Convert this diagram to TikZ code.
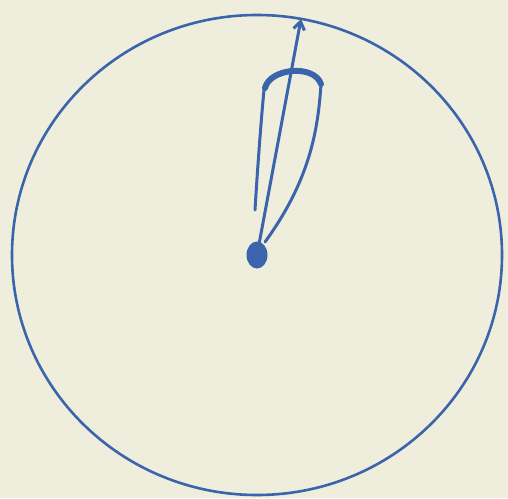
\documentclass[tikz,border=0pt]{standalone}
\usetikzlibrary{arrows.meta,shapes.geometric}
\definecolor{paper}{HTML}{EFEEDC}
\definecolor{ink}{HTML}{3A64AC}
\begin{document}
\begin{tikzpicture}[x=1pt,y=-1pt,
  pen/.style={draw=ink,line width=3pt,line cap=round,line join=round},
  blob/.style={ellipse,fill=ink,inner sep=0pt,minimum width=21pt,minimum height=27pt}]
\fill[paper] (0,0) rectangle (508,498);
\useasboundingbox (0,0) rectangle (508,498);
% outer circle
\draw[pen,line width=2.6pt] (257,255) ellipse [x radius=245, y radius=240];
% centre dot
\node[blob] (dot) at (257,255) {};
\coordinate (tip) at (301,19);
% loop (hairpin)
\draw[pen] (255,210) .. controls (258,160) and (262,110) .. (264,90)
  .. controls (268,70) and (315,64) .. (321,84)
  .. controls (318,130) and (310,180) .. (265,242);
\draw[pen,line width=6pt] (265,88) .. controls (270,68) and (314,64) .. (321,84);
% arrow
\draw[pen,-{Straight Barb[length=8pt,width=11pt]}] (dot.center) -- (tip);
\end{tikzpicture}
\end{document}
